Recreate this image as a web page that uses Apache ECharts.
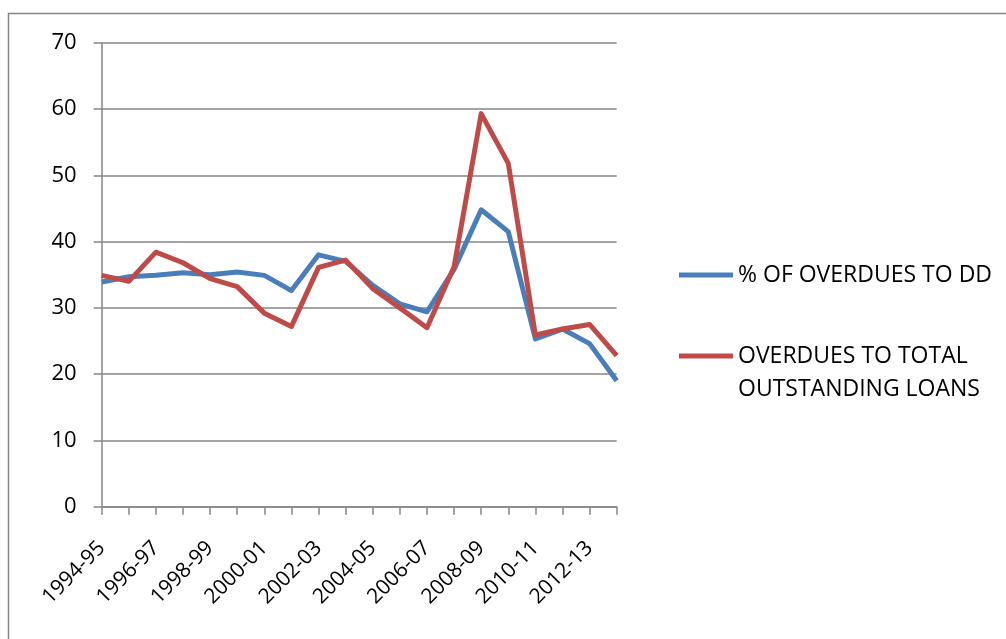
<!DOCTYPE html>
<html>
<head>
<meta charset="utf-8">
<script src="https://cdn.jsdelivr.net/npm/echarts@6/dist/echarts.min.js"></script>
<style>
  html, body { margin: 0; padding: 0; background: #fff; }
  #chart { width: 1006px; height: 639px; }
</style>
</head>
<body>
<div id="chart"></div>
<script>
// Financial years on the category axis
const years = [
  '1994-95', '1995-96', '1996-97', '1997-98', '1998-99', '1999-00', '2000-01',
  '2001-02', '2002-03', '2003-04', '2004-05', '2005-06', '2006-07', '2007-08',
  '2008-09', '2009-10', '2010-11', '2011-12', '2012-13', '2013-14'
];

// % of overdues to demand (DD)
const overduesToDD = [
  33.9, 34.7, 34.9, 35.3, 35.0, 35.4, 34.9, 32.6, 38.0, 37.0,
  33.4, 30.6, 29.4, 35.8, 44.8, 41.5, 25.3, 26.8, 24.6, 19.0
];

// Overdues to total outstanding loans
const overduesToLoans = [
  34.9, 34.0, 38.4, 36.8, 34.4, 33.2, 29.2, 27.2, 36.1, 37.2,
  32.9, 30.0, 27.0, 36.2, 59.3, 51.8, 25.9, 26.8, 27.5, 22.8
];

const yTicks = { min: 0, max: 70, interval: 10 };

const nameDD = '% OF OVERDUES TO DD';
const nameLoans = 'OVERDUES TO TOTAL OUTSTANDING LOANS';

const FONT = 'Open Sans';
const AXIS_GREY = '#868686';

const chart = echarts.init(document.getElementById('chart'), null, { renderer: 'canvas' });

const legendText = { fontFamily: FONT, fontSize: 23, color: '#000', lineHeight: 33 };

chart.setOption({
  backgroundColor: '#ffffff',
  animation: false,
  textStyle: { fontFamily: FONT },
  graphic: [{
    type: 'rect',
    shape: { x: 8.5, y: 13.5, width: 1100, height: 700 },
    style: { fill: 'none', stroke: AXIS_GREY, lineWidth: 1.5 },
    silent: true,
    z: -10
  }],
  grid: {
    left: 101.7, right: 389.3, top: 42.7, bottom: 132.3,
    containLabel: false,
    outerBoundsMode: 'none'
  },
  legend: [{
    data: [nameDD],
    orient: 'vertical',
    left: 674,
    top: 253.5,
    itemWidth: 54,
    itemHeight: 14,
    itemGap: 0,
    icon: 'path://M0,4.5 L54,4.5 L54,9.5 L0,9.5 Z',
    textStyle: legendText
  }, {
    data: [nameLoans],
    orient: 'vertical',
    left: 674,
    top: 301.5,
    itemWidth: 54,
    itemHeight: 14,
    itemGap: 0,
    icon: 'path://M0,4.5 L54,4.5 L54,9.5 L0,9.5 Z',
    formatter: () => '\nOVERDUES TO TOTAL\nOUTSTANDING LOANS',
    textStyle: legendText
  }],
  xAxis: {
    type: 'category',
    data: years,
    boundaryGap: false,
    axisLine: { lineStyle: { color: AXIS_GREY, width: 1.5 } },
    axisTick: { show: true, interval: 0, length: 8, lineStyle: { color: AXIS_GREY, width: 1.5 } },
    axisLabel: {
      interval: 1,
      rotate: 45,
      margin: 38,
      color: '#000',
      fontFamily: FONT,
      fontSize: 21
    },
    splitLine: { show: false }
  },
  yAxis: {
    type: 'value',
    min: yTicks.min,
    max: yTicks.max,
    interval: yTicks.interval,
    axisLine: { show: true, lineStyle: { color: AXIS_GREY, width: 1.5 } },
    axisTick: { show: true, length: 8, lineStyle: { color: AXIS_GREY, width: 1.5 } },
    axisLabel: { margin: 25, color: '#000', fontFamily: FONT, fontSize: 22 },
    splitLine: { show: true, lineStyle: { color: AXIS_GREY, width: 1.5 } }
  },
  series: [{
    name: nameDD,
    type: 'line',
    data: overduesToDD,
    symbol: 'none',
    color: '#4A7EBB',
    lineStyle: { width: 5, color: '#4A7EBB', join: 'round' },
    z: 2
  }, {
    name: nameLoans,
    type: 'line',
    data: overduesToLoans,
    symbol: 'none',
    color: '#BE4B48',
    lineStyle: { width: 5, color: '#BE4B48', join: 'round' },
    z: 3
  }]
});
</script>
</body>
</html>
